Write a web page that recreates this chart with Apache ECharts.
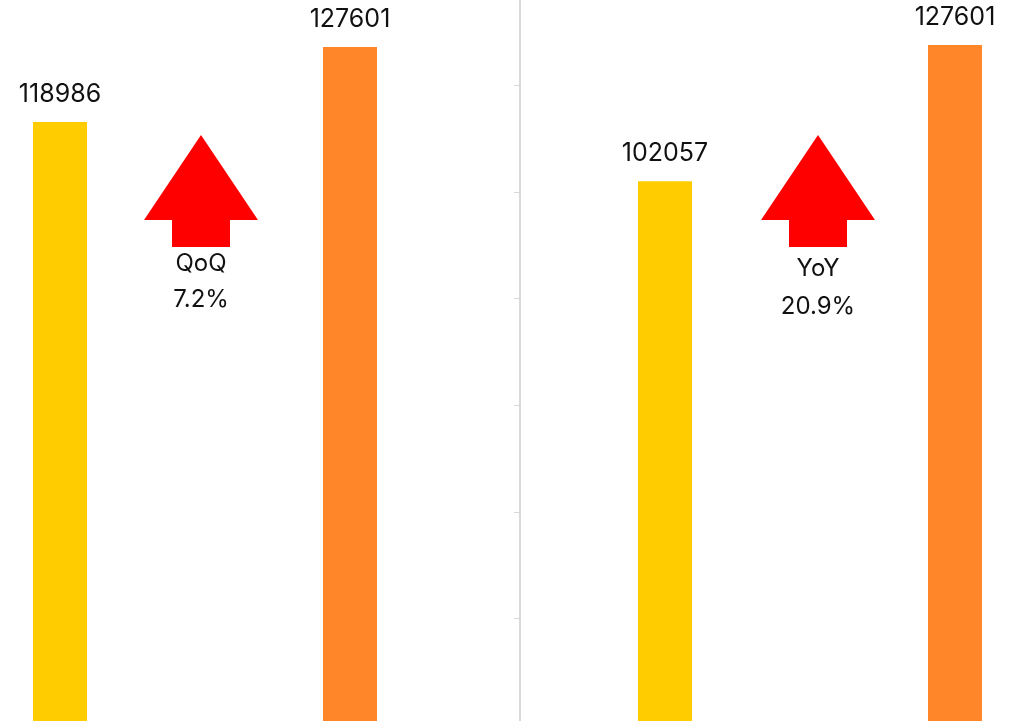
<!DOCTYPE html>
<html>
<head>
<meta charset="utf-8">
<script src="https://cdn.jsdelivr.net/npm/echarts@6/dist/echarts.min.js"></script>
<style>html,body{margin:0;padding:0;background:#fff;}#c{width:1010px;height:721px;}</style>
</head>
<body>
<div id="c"></div>
<script>
var qoqCategories = ['Prev Quarter', 'Current Quarter'];
var qoqValues = [118986, 127601];
var yoyCategories = ['Prev Year', 'Current Year'];
var yoyValues = [102057, 127601];
var changeNames = ['QoQ', 'YoY'];
var changeTexts = ['7.2%', '20.9%'];
var barColors = ['#FFCC00', '#FF8629'];

var FONT = 'Inter, Roboto, sans-serif';
var chart = echarts.init(document.getElementById('c'));

function barData(vals) {
  return vals.map(function (v, i) { return { value: v, itemStyle: { color: barColors[i] } }; });
}
function arrow(cx) {
  return {
    type: 'polygon',
    shape: { points: [[cx, 135], [cx + 57, 220], [cx + 29, 220], [cx + 29, 247], [cx - 29, 247], [cx - 29, 220], [cx - 57, 220]] },
    style: { fill: '#FF0000' },
    silent: true
  };
}
function txt(x, y, s) {
  return { type: 'text', x: x, y: y, style: { text: s, fill: '#111', font: '400 24px ' + FONT, align: 'center', verticalAlign: 'middle' } };
}

var labelCfg = { show: true, position: 'top', distance: 15, color: '#111', fontSize: 25, fontFamily: FONT };

chart.setOption({
  animation: false,
  backgroundColor: '#fff',
  grid: [
    { left: -85, top: -61, width: 580, height: 783.6, outerBoundsMode: 'none', containLabel: false },
    { left: 520, top: -21, width: 580, height: 746, outerBoundsMode: 'none', containLabel: false }
  ],
  xAxis: [
    { type: 'category', gridIndex: 0, data: qoqCategories, show: false },
    { type: 'category', gridIndex: 1, data: yoyCategories, axisLine: { show: false }, axisTick: { show: false }, axisLabel: { show: false } }
  ],
  yAxis: [
    { type: 'value', gridIndex: 0, min: 50000, max: 140000, show: false },
    { type: 'value', gridIndex: 1, min: 0, max: 140000, interval: 20000, position: 'left',
      axisLine: { show: true, lineStyle: { color: '#d9d9d9', width: 2 } },
      axisTick: { show: true, length: 6, lineStyle: { color: '#d9d9d9', width: 1 } },
      axisLabel: { show: false }, splitLine: { show: false } }
  ],
  series: [
    { type: 'bar', xAxisIndex: 0, yAxisIndex: 0, data: barData(qoqValues), barWidth: 54, label: labelCfg },
    { type: 'bar', xAxisIndex: 1, yAxisIndex: 1, data: barData(yoyValues), barWidth: 54, label: labelCfg }
  ],
  graphic: [
    arrow(201), arrow(818),
    txt(201, 264, changeNames[0]), txt(201, 300, changeTexts[0]),
    txt(818, 269, changeNames[1]), txt(818, 307, changeTexts[1])
  ]
});
</script>
</body>
</html>
